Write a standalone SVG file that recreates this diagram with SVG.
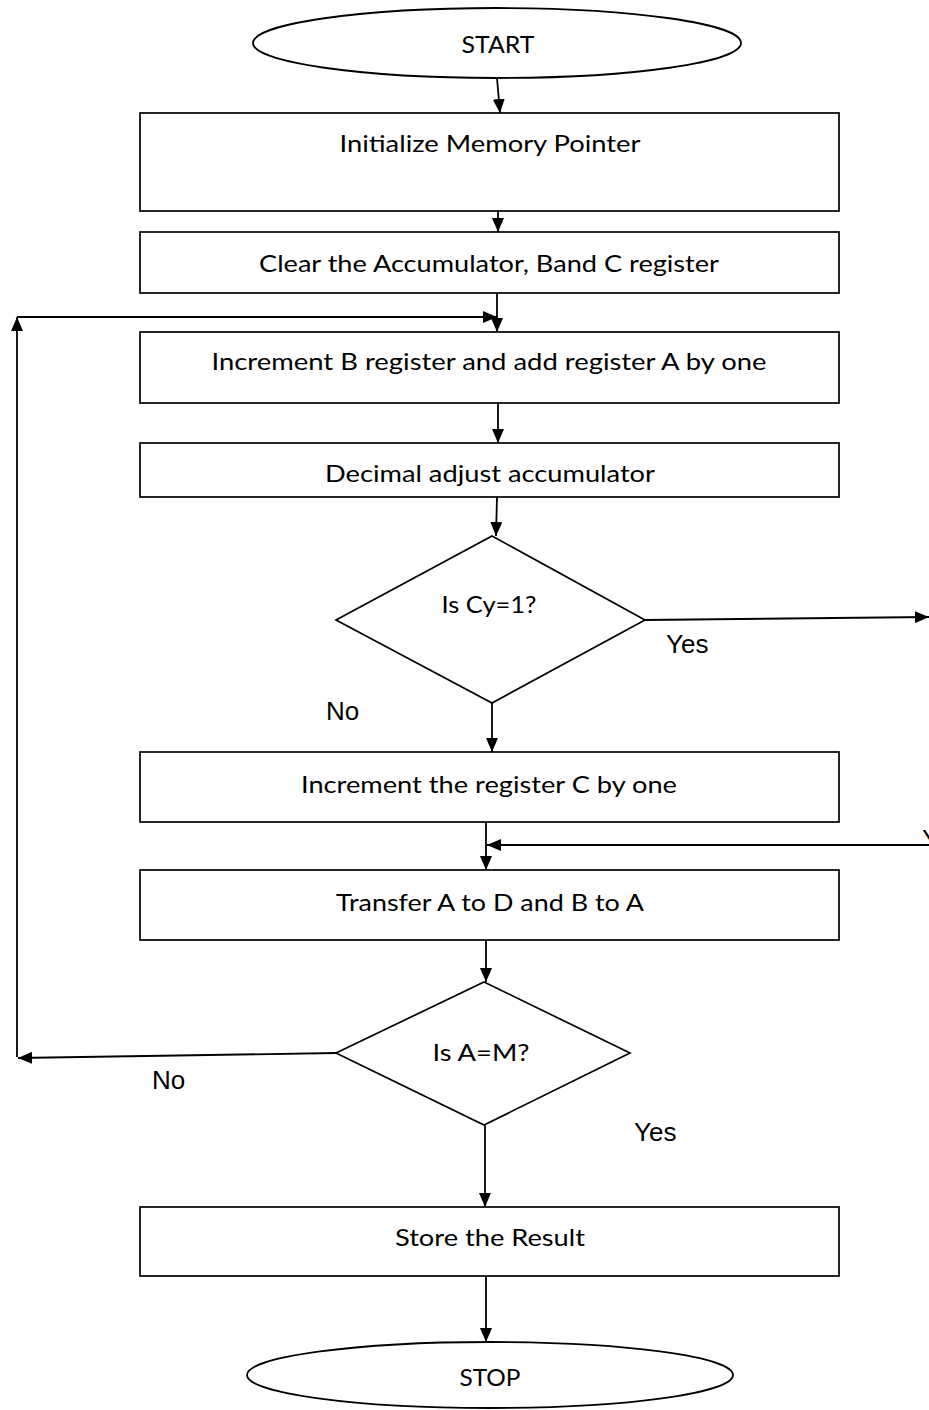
<svg xmlns="http://www.w3.org/2000/svg" width="929" height="1410" viewBox="0 0 929 1410">
  <defs>
    <marker id="arrow" markerUnits="userSpaceOnUse" viewBox="0 0 14 12" refX="14" refY="6" markerWidth="14" markerHeight="12" orient="auto">
      <path d="M0,0 L14,6 L0,12 z" fill="#000"/>
    </marker>
    <style>
      .box { fill: #fff; stroke: #000; stroke-width: 1.7; }
      .term { fill: #fff; stroke: #000; stroke-width: 1.8; }
      .txt { font-family: Lato, "Open Sans", "Liberation Sans", sans-serif; font-size: 24px; fill: #000; text-anchor: middle; }
      .lbl { font-family: "Liberation Sans", Arial, sans-serif; font-size: 26px; fill: #000; }
      .conn line, .conn path { stroke: #000; stroke-width: 1.8; fill: none; marker-end: url(#arrow); }
    </style>
  </defs>
  <rect width="929" height="1410" fill="#fff"/>

  <g id="start">
    <ellipse class="term" cx="497" cy="43" rx="244" ry="35"/>
    <text class="txt" x="498" y="53" textLength="73" lengthAdjust="spacingAndGlyphs">START</text>
  </g>

  <g id="init-pointer">
    <rect class="box" x="140" y="113" width="699" height="98"/>
    <text class="txt" x="490" y="152" textLength="301" lengthAdjust="spacingAndGlyphs">Initialize Memory Pointer</text>
  </g>

  <g id="clear-regs">
    <rect class="box" x="140" y="232" width="699" height="61"/>
    <text class="txt" x="489" y="272" textLength="460" lengthAdjust="spacingAndGlyphs">Clear the Accumulator, Band C register</text>
  </g>

  <g id="increment-b">
    <rect class="box" x="140" y="332" width="699" height="71"/>
    <text class="txt" x="489" y="370" textLength="555" lengthAdjust="spacingAndGlyphs">Increment B register and add register A by one</text>
  </g>

  <g id="daa">
    <rect class="box" x="140" y="443" width="699" height="54"/>
    <text class="txt" x="490" y="482" textLength="330" lengthAdjust="spacingAndGlyphs">Decimal adjust accumulator</text>
  </g>

  <g id="check-carry">
    <polygon class="box" points="492,536 645,620 492,703 336,620"/>
    <text class="txt" x="489" y="613" textLength="95" lengthAdjust="spacingAndGlyphs">Is Cy=1?</text>
  </g>

  <g id="increment-c">
    <rect class="box" x="140" y="752" width="699" height="70"/>
    <text class="txt" x="489" y="793" textLength="376" lengthAdjust="spacingAndGlyphs">Increment the register C by one</text>
  </g>

  <g id="transfer">
    <rect class="box" x="140" y="870" width="699" height="70"/>
    <text class="txt" x="490" y="911" textLength="308" lengthAdjust="spacingAndGlyphs">Transfer A to D and B to A</text>
  </g>

  <g id="check-limit">
    <polygon class="box" points="484,982 630,1053 484,1125 336,1053"/>
    <text class="txt" x="481" y="1061" textLength="97" lengthAdjust="spacingAndGlyphs">Is A=M?</text>
  </g>

  <g id="store">
    <rect class="box" x="140" y="1207" width="699" height="69"/>
    <text class="txt" x="490" y="1246" textLength="190" lengthAdjust="spacingAndGlyphs">Store the Result</text>
  </g>

  <g id="stop">
    <ellipse class="term" cx="490" cy="1375" rx="243" ry="33"/>
    <text class="txt" x="490" y="1386" textLength="61" lengthAdjust="spacingAndGlyphs">STOP</text>
  </g>

  <g id="connectors" class="conn">
    <line x1="497" y1="78" x2="500" y2="113"/>
    <line x1="498" y1="211" x2="498" y2="232"/>
    <line x1="497" y1="293" x2="497" y2="332"/>
    <line x1="498" y1="403" x2="498" y2="443"/>
    <line x1="497" y1="497" x2="496" y2="536"/>
    <line x1="645" y1="620" x2="929" y2="617"/>
    <line x1="492" y1="703" x2="492" y2="752"/>
    <line x1="486" y1="822" x2="486" y2="870"/>
    <line x1="929" y1="845" x2="487" y2="845"/>
    <line x1="486" y1="940" x2="486" y2="982"/>
    <line x1="336" y1="1053" x2="18" y2="1058"/>
    <line x1="17" y1="1057" x2="17" y2="317"/>
    <line x1="17" y1="317" x2="497" y2="317"/>
    <line x1="485" y1="1125" x2="485" y2="1207"/>
    <line x1="486" y1="1276" x2="486" y2="1342"/>
  </g>

  <g id="branch-labels">
    <text class="lbl" x="666" y="653">Yes</text>
    <text class="lbl" x="326" y="720">No</text>
    <text class="lbl" x="922" y="848">Yes</text>
    <text class="lbl" x="152" y="1089">No</text>
    <text class="lbl" x="634" y="1141">Yes</text>
  </g>
</svg>
